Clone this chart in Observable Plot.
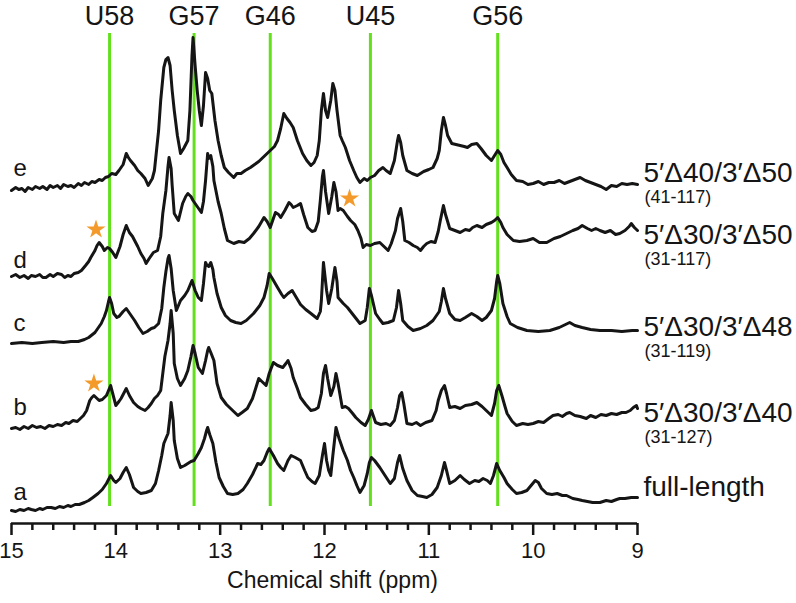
<!DOCTYPE html>
<html><head><meta charset="utf-8">
<script src="https://cdn.jsdelivr.net/npm/d3@7"></script>
<script src="https://cdn.jsdelivr.net/npm/@observablehq/plot@0.6"></script>
<style>
body{margin:0;background:#fff;}
#chart svg{display:block;}
</style>
</head><body><div id="chart"></div>
<script>
// ---- data ----
const traceNames = ["a","b","c","d","e"];
const traceLabels = ["full-length","5\u2032\u039430/3\u2032\u039440","5\u2032\u039430/3\u2032\u039448","5\u2032\u039430/3\u2032\u039450","5\u2032\u039440/3\u2032\u039450"];
const traceRanges = ["","(31-127)","(31-119)","(31-117)","(41-117)"];
const traceOffsets = [13, 95, 180, 247, 333];
const labelRise = [23, 15, 16, 41, 17];
const letterRise = [18, 21, 20, 16, 22];
const assignNames = ["U58","G57","G46","U45","G56"];
const assignShifts = [14.06, 13.25, 12.52, 11.56, 10.34];
const xTicks = [15,14,13,12,11,10,9];
const starTrace = ["d","d","b"];
const starShift = [14.19, 11.76, 14.21];
const starHeight = [47, 78, 45];

const spectrumA = [[15.00,0],[14.96,-1],[14.92,1],[14.88,0],[14.84,2],[14.81,1],[14.77,0],[14.73,2],[14.70,1],[14.66,3],[14.62,3],[14.58,2],[14.54,4],[14.50,3],[14.46,5],[14.43,4],[14.39,6],[14.35,6],[14.30,8],[14.26,10],[14.22,13],[14.17,17],[14.13,21],[14.09,27],[14.07,31],[14.05,35],[14.02,30],[14.00,28],[13.96,32],[13.93,38],[13.90,43],[13.87,36],[13.83,23],[13.79,19],[13.76,17],[13.71,18],[13.66,20],[13.62,27],[13.59,40],[13.56,55],[13.54,67],[13.52,72],[13.50,77],[13.48,95],[13.47,108],[13.45,90],[13.44,70],[13.41,52],[13.38,43],[13.34,45],[13.31,47],[13.28,49],[13.25,50],[13.21,57],[13.18,63],[13.15,72],[13.13,80],[13.12,83],[13.10,76],[13.07,67],[13.04,48],[13.01,33],[12.97,24],[12.93,17],[12.88,16],[12.83,17],[12.78,21],[12.74,27],[12.69,36],[12.64,47],[12.61,46],[12.58,50],[12.55,58],[12.53,62],[12.49,55],[12.45,47],[12.42,43],[12.39,40],[12.35,50],[12.32,55],[12.28,53],[12.23,50],[12.19,40],[12.16,33],[12.12,29],[12.09,27],[12.05,35],[12.02,55],[12.00,67],[11.98,50],[11.96,40],[11.94,35],[11.92,55],[11.89,83],[11.86,72],[11.82,60],[11.78,50],[11.75,40],[11.72,33],[11.69,25],[11.66,18],[11.62,25],[11.59,37],[11.57,48],[11.55,53],[11.52,50],[11.47,43],[11.42,35],[11.37,27],[11.33,32],[11.30,48],[11.28,55],[11.25,42],[11.21,30],[11.16,20],[11.11,15],[11.06,14],[11.02,13],[10.97,16],[10.92,23],[10.88,35],[10.85,48],[10.83,40],[10.80,27],[10.75,30],[10.70,35],[10.66,31],[10.61,27],[10.56,30],[10.52,29],[10.48,32],[10.44,30],[10.41,27],[10.38,35],[10.35,47],[10.32,40],[10.28,33],[10.25,27],[10.20,21],[10.16,17],[10.11,18],[10.06,20],[10.02,25],[9.98,30],[9.95,28],[9.92,22],[9.87,17],[9.82,16],[9.77,17],[9.72,15],[9.68,15],[9.62,12],[9.57,11],[9.53,10],[9.48,9],[9.43,8],[9.36,8],[9.30,10],[9.25,9],[9.20,11],[9.17,12],[9.12,12],[9.06,13],[9.01,13],[9.00,13]];

const spectrumB = [[15.00,0],[14.96,1],[14.92,-1],[14.88,2],[14.84,0],[14.80,3],[14.76,1],[14.72,2],[14.68,0],[14.64,3],[14.60,2],[14.56,4],[14.52,3],[14.48,6],[14.45,5],[14.41,8],[14.37,7],[14.34,10],[14.31,13],[14.28,18],[14.25,28],[14.23,31],[14.21,33],[14.18,30],[14.16,28],[14.13,29],[14.09,33],[14.07,38],[14.05,43],[14.03,35],[14.00,23],[13.97,27],[13.95,30],[13.92,36],[13.90,40],[13.87,33],[13.83,26],[13.79,22],[13.76,20],[13.72,18],[13.69,21],[13.66,25],[13.63,30],[13.60,33],[13.57,38],[13.55,55],[13.53,72],[13.50,88],[13.48,105],[13.47,118],[13.45,95],[13.44,65],[13.41,50],[13.38,43],[13.34,50],[13.31,58],[13.28,72],[13.26,83],[13.24,75],[13.21,61],[13.17,55],[13.14,68],[13.12,78],[13.11,81],[13.09,76],[13.06,68],[13.03,45],[12.99,31],[12.94,24],[12.90,20],[12.86,16],[12.83,13],[12.79,16],[12.74,20],[12.69,30],[12.66,40],[12.63,50],[12.60,47],[12.56,43],[12.53,55],[12.49,66],[12.45,63],[12.40,61],[12.37,65],[12.35,68],[12.32,60],[12.30,51],[12.26,40],[12.23,31],[12.18,24],[12.13,18],[12.09,19],[12.06,21],[12.03,35],[12.01,55],[11.99,63],[11.97,50],[11.94,33],[11.91,42],[11.89,55],[11.87,45],[11.83,21],[11.80,22],[11.77,20],[11.73,15],[11.70,11],[11.65,6],[11.61,3],[11.58,9],[11.55,18],[11.53,12],[11.51,6],[11.46,4],[11.41,5],[11.37,3],[11.33,8],[11.30,21],[11.28,33],[11.26,36],[11.24,25],[11.21,5],[11.16,4],[11.12,6],[11.08,3],[11.03,6],[10.97,8],[10.93,18],[10.91,28],[10.88,38],[10.85,43],[10.83,35],[10.80,21],[10.75,22],[10.70,20],[10.65,23],[10.59,24],[10.54,26],[10.49,22],[10.45,18],[10.40,13],[10.37,25],[10.35,38],[10.33,43],[10.30,33],[10.27,22],[10.25,15],[10.20,7],[10.16,3],[10.10,5],[10.05,4],[10.00,5],[9.95,7],[9.90,6],[9.85,10],[9.81,13],[9.76,14],[9.72,12],[9.68,15],[9.65,16],[9.60,13],[9.55,12],[9.49,10],[9.45,13],[9.40,11],[9.35,14],[9.30,13],[9.25,15],[9.20,14],[9.15,16],[9.11,16],[9.07,18],[9.04,21],[9.01,23],[9.00,20]];

const spectrumC = [[15.00,0],[14.90,1],[14.80,0],[14.71,1],[14.60,2],[14.50,1],[14.43,2],[14.36,2],[14.30,4],[14.26,6],[14.20,11],[14.14,20],[14.11,27],[14.09,33],[14.07,42],[14.06,46],[14.04,40],[14.02,30],[13.99,26],[13.97,27],[13.93,32],[13.90,35],[13.86,29],[13.82,23],[13.78,16],[13.74,10],[13.70,12],[13.66,15],[13.63,16],[13.59,20],[13.56,35],[13.54,56],[13.52,72],[13.50,85],[13.49,88],[13.47,75],[13.45,53],[13.42,33],[13.38,43],[13.34,48],[13.31,53],[13.29,58],[13.27,63],[13.24,53],[13.21,46],[13.18,43],[13.16,60],[13.14,81],[13.13,79],[13.11,77],[13.09,81],[13.07,74],[13.06,66],[13.03,50],[12.99,36],[12.95,28],[12.90,23],[12.85,21],[12.80,20],[12.75,23],[12.68,30],[12.62,38],[12.58,46],[12.55,58],[12.53,70],[12.50,65],[12.45,56],[12.41,49],[12.39,46],[12.35,50],[12.31,53],[12.27,46],[12.23,39],[12.18,34],[12.13,30],[12.07,25],[12.04,32],[12.03,43],[12.01,81],[11.98,53],[11.96,40],[11.93,55],[11.90,76],[11.88,62],[11.87,46],[11.82,40],[11.78,36],[11.72,28],[11.66,20],[11.61,23],[11.59,36],[11.57,55],[11.55,48],[11.51,30],[11.47,24],[11.44,20],[11.39,21],[11.34,23],[11.31,36],[11.29,53],[11.27,40],[11.25,23],[11.20,17],[11.15,13],[11.08,15],[11.02,18],[10.96,23],[10.90,32],[10.88,42],[10.86,55],[10.84,45],[10.80,30],[10.75,24],[10.70,23],[10.65,26],[10.59,30],[10.54,27],[10.49,23],[10.45,26],[10.40,33],[10.37,45],[10.35,62],[10.34,68],[10.32,60],[10.29,40],[10.25,27],[10.22,20],[10.15,16],[10.06,13],[9.95,12],[9.84,13],[9.75,16],[9.69,19],[9.65,21],[9.60,18],[9.53,16],[9.45,14],[9.36,13],[9.25,13],[9.15,12],[9.05,13],[9.00,13]];

const spectrumD = [[15.00,0],[14.96,2],[14.92,-1],[14.88,1],[14.84,-2],[14.81,1],[14.77,0],[14.73,2],[14.70,-1],[14.67,-1],[14.63,2],[14.60,0],[14.56,3],[14.52,2],[14.49,-1],[14.46,1],[14.43,0],[14.40,3],[14.36,4],[14.33,6],[14.29,11],[14.26,15],[14.24,19],[14.20,26],[14.18,31],[14.16,34],[14.13,30],[14.11,26],[14.08,29],[14.06,28],[14.03,24],[14.00,19],[13.96,30],[13.93,42],[13.90,51],[13.87,44],[13.84,40],[13.82,36],[13.79,30],[13.76,23],[13.73,18],[13.71,13],[13.68,18],[13.64,24],[13.60,26],[13.57,40],[13.55,63],[13.52,86],[13.50,110],[13.49,119],[13.47,108],[13.46,91],[13.44,63],[13.40,56],[13.36,73],[13.33,80],[13.31,83],[13.28,80],[13.26,76],[13.22,70],[13.18,64],[13.16,75],[13.14,96],[13.12,123],[13.11,118],[13.09,121],[13.07,110],[13.06,96],[13.02,75],[12.99,63],[12.96,48],[12.93,36],[12.87,33],[12.82,35],[12.77,34],[12.72,38],[12.68,43],[12.63,50],[12.58,59],[12.55,55],[12.52,49],[12.49,58],[12.47,64],[12.44,62],[12.42,59],[12.38,66],[12.34,74],[12.32,72],[12.30,69],[12.26,71],[12.23,73],[12.20,62],[12.16,49],[12.12,45],[12.09,46],[12.06,55],[12.04,76],[12.02,100],[12.01,106],[11.99,85],[11.96,63],[11.93,80],[11.91,94],[11.89,85],[11.87,66],[11.85,68],[11.82,66],[11.78,60],[11.75,56],[11.71,52],[11.68,46],[11.65,38],[11.63,29],[11.60,32],[11.56,31],[11.52,33],[11.47,34],[11.43,30],[11.39,26],[11.36,33],[11.32,46],[11.30,58],[11.27,68],[11.25,55],[11.23,36],[11.19,34],[11.15,31],[11.11,29],[11.08,26],[11.05,30],[11.02,33],[10.98,35],[10.94,34],[10.91,45],[10.89,56],[10.86,71],[10.84,62],[10.80,48],[10.75,46],[10.70,44],[10.65,47],[10.61,46],[10.58,49],[10.54,51],[10.49,49],[10.45,52],[10.40,54],[10.37,56],[10.34,59],[10.31,54],[10.29,49],[10.25,42],[10.19,36],[10.13,35],[10.06,36],[10.00,38],[9.94,34],[9.87,34],[9.80,38],[9.74,40],[9.68,43],[9.62,46],[9.57,48],[9.53,51],[9.48,48],[9.44,46],[9.40,48],[9.36,46],[9.31,44],[9.26,46],[9.21,42],[9.17,43],[9.12,46],[9.08,50],[9.06,53],[9.03,49],[9.00,46]];

const spectrumE = [[15.00,0],[14.96,3],[14.93,1],[14.90,2],[14.87,-1],[14.84,3],[14.80,1],[14.77,4],[14.73,2],[14.70,4],[14.66,1],[14.63,5],[14.60,3],[14.56,5],[14.53,2],[14.50,6],[14.46,4],[14.43,5],[14.40,3],[14.36,7],[14.33,5],[14.30,8],[14.26,6],[14.23,9],[14.20,8],[14.16,11],[14.13,10],[14.10,13],[14.07,14],[14.04,17],[14.00,16],[13.97,20],[13.93,26],[13.90,37],[13.88,33],[13.86,30],[13.82,25],[13.79,20],[13.76,17],[13.72,12],[13.69,5],[13.65,12],[13.63,20],[13.61,40],[13.59,60],[13.57,90],[13.54,123],[13.52,131],[13.50,133],[13.48,125],[13.46,100],[13.44,80],[13.41,55],[13.38,37],[13.35,42],[13.31,50],[13.29,80],[13.27,135],[13.26,153],[13.24,125],[13.22,100],[13.20,80],[13.18,65],[13.16,85],[13.14,118],[13.12,112],[13.10,100],[13.08,97],[13.05,70],[13.02,50],[12.99,35],[12.96,23],[12.92,18],[12.87,13],[12.84,17],[12.80,17],[12.76,20],[12.71,23],[12.67,26],[12.63,29],[12.58,34],[12.52,40],[12.48,44],[12.45,50],[12.42,62],[12.39,77],[12.36,72],[12.33,68],[12.30,63],[12.26,50],[12.21,37],[12.17,30],[12.13,25],[12.10,28],[12.07,35],[12.05,50],[12.03,80],[12.01,97],[11.99,80],[11.97,73],[11.94,90],[11.92,107],[11.90,100],[11.88,80],[11.85,55],[11.83,50],[11.80,43],[11.76,30],[11.72,20],[11.69,13],[11.66,8],[11.62,12],[11.59,10],[11.56,13],[11.52,15],[11.48,20],[11.44,23],[11.41,20],[11.37,17],[11.33,30],[11.30,50],[11.29,55],[11.27,48],[11.25,35],[11.21,20],[11.16,17],[11.11,15],[11.05,19],[11.00,21],[10.96,23],[10.92,32],[10.90,40],[10.88,60],[10.86,73],[10.84,65],[10.82,55],[10.78,47],[10.74,46],[10.70,45],[10.66,44],[10.63,43],[10.59,46],[10.54,47],[10.50,42],[10.45,35],[10.42,32],[10.40,30],[10.37,35],[10.34,40],[10.31,36],[10.28,28],[10.25,23],[10.21,16],[10.16,10],[10.10,9],[10.05,6],[10.00,7],[9.95,9],[9.90,6],[9.85,8],[9.80,8],[9.75,10],[9.70,7],[9.65,9],[9.60,11],[9.55,13],[9.50,10],[9.45,8],[9.40,6],[9.35,4],[9.30,1],[9.25,5],[9.20,4],[9.15,7],[9.10,6],[9.05,7],[9.00,6]];

// ---- build tables ----
const spectra = [spectrumA, spectrumB, spectrumC, spectrumD, spectrumE];
const rows = [];
spectra.forEach((s, i) => s.forEach(([ppm, h]) => rows.push({trace: traceNames[i], ppm, y: traceOffsets[i] + h})));
const traces = traceNames.map((name, i) => ({name, label: traceLabels[i], range: traceRanges[i], offset: traceOffsets[i], rise: labelRise[i], lrise: letterRise[i]}));
const stars = starTrace.map((t, i) => ({ppm: starShift[i], y: traceOffsets[traceNames.indexOf(t)] + starHeight[i]}));
const assigns = assignNames.map((name, i) => ({name, ppm: assignShifts[i]}));
const minorTicks = d3.range(90, 151, 2).map(v => v / 10).filter(v => !Number.isInteger(v));

const green = "#62E01C";
const ink = "#151515";

const chart = Plot.plot({
  width: 796, height: 603,
  marginLeft: 11, marginRight: 159, marginTop: 33, marginBottom: 80,
  style: {fontFamily: "'Liberation Sans', Arial, Helvetica, sans-serif", background: "#fff", color: ink, overflow: "visible"},
  x: {domain: [15, 9]},
  y: {domain: [0, 490], axis: null},
  marks: [
    Plot.ruleX(assigns, {x: "ppm", y1: 17, y2: 490, stroke: green, strokeWidth: 3}),
    Plot.text(assigns, {x: "ppm", text: "name", frameAnchor: "top", lineAnchor: "middle", dy: -17, fontSize: 27, fill: ink}),
    Plot.line(rows, {x: "ppm", y: "y", z: "trace", stroke: ink, strokeWidth: 3, strokeLinejoin: "round", strokeLinecap: "round"}),
    Plot.dot(stars, {x: "ppm", y: "y", symbol: "star", r: 6, fill: "#F39A2A", stroke: null}),
    Plot.text(traces, {x: 15, y: d => d.offset + d.lrise, text: "name", textAnchor: "start", dx: 2, fontSize: 24, fill: ink}),
    Plot.text(traces, {x: 9, y: d => d.offset + d.rise, text: "label", textAnchor: "start", dx: 6, fontSize: 28, fill: ink}),
    Plot.text(traces.filter(d => d.range), {x: 9, y: d => d.offset + d.rise, text: "range", textAnchor: "start", dx: 7, dy: 24, fontSize: 18, fill: ink}),
    Plot.ruleY([0], {x1: 15, x2: 9, stroke: ink, strokeWidth: 2.5}),
    Plot.axisX(minorTicks, {tickSize: 7, text: null, label: null, stroke: ink, strokeWidth: 2.5}),
    Plot.axisX(xTicks, {tickSize: 12, tickPadding: 7, fontSize: 22, label: null, stroke: ink, strokeWidth: 2.5, tickFormat: d => String(d)}),
    Plot.text(["Chemical shift (ppm)"], {frameAnchor: "bottom", lineAnchor: "middle", dy: 57, dx: 8, fontSize: 23, fill: ink})
  ]
});
document.getElementById("chart").appendChild(chart);
</script>
</body></html>
